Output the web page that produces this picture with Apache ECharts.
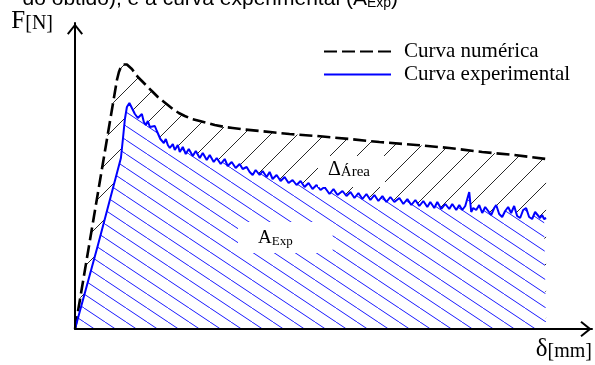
<!DOCTYPE html>
<html>
<head>
<meta charset="utf-8">
<script src="https://cdn.jsdelivr.net/npm/echarts@6/dist/echarts.min.js"></script>
<style>
  html, body { margin: 0; padding: 0; background: #fff; }
  #chart { width: 595px; height: 365px; }
</style>
</head>
<body>
<div id="chart"></div>
<script>
// Numerical (simulated) force-displacement curve
const numDelta = [0, 0.42, 0.44, 0.46, 0.48, 0.50, 0.52, 0.54, 0.57, 0.60, 0.63, 0.66, 0.70, 0.74,
  0.78, 0.83, 0.88, 0.93, 0.98, 1.04, 1.10, 1.17, 1.25, 1.33, 1.40, 1.50, 1.58, 1.70, 1.85,
  2.00, 2.15, 2.42, 2.75, 3.05, 3.42, 3.75, 4.08, 4.40, 4.72];
const numForce = [0, 249, 257, 262, 264.5, 265, 264.5, 263, 260, 256, 252, 249, 245, 241,
  237, 232, 228, 224, 220, 216, 213, 210, 208, 206, 204, 202, 201, 199.5, 198,
  196.5, 195, 193, 190, 187, 184, 181, 177, 174, 170];

// Experimental force-displacement record
const expDelta = [0, 0.23, 0.46, 0.48, 0.50, 0.52, 0.545, 0.56, 0.58, 0.60, 0.63, 0.65, 0.67, 0.69,
  0.71, 0.73, 0.75, 0.77, 0.80, 0.82, 0.84, 0.855, 0.87, 0.89, 0.91, 0.93, 0.95, 0.98,
  1.00, 1.03, 1.05, 1.08, 1.11, 1.14, 1.18, 1.21, 1.25, 1.28, 1.32, 1.35, 1.39, 1.42,
  1.46, 1.50, 1.53, 1.57, 1.61, 1.65, 1.68, 1.72, 1.75, 1.78, 1.81, 1.85, 1.88, 1.92,
  1.95, 1.98, 2.02, 2.06, 2.10, 2.14, 2.18, 2.22, 2.26, 2.30, 2.34, 2.38, 2.42, 2.46,
  2.50, 2.55, 2.59, 2.63, 2.68, 2.72, 2.76, 2.80, 2.84, 2.88, 2.92, 2.96, 3.00, 3.04,
  3.08, 3.12, 3.16, 3.20, 3.25, 3.29, 3.33, 3.37, 3.41, 3.45, 3.49, 3.53, 3.56, 3.60,
  3.63, 3.67, 3.71, 3.75, 3.78, 3.82, 3.85, 3.88, 3.91, 3.93, 3.95, 3.97, 3.99, 4.02,
  4.05, 4.08, 4.11, 4.14, 4.17, 4.20, 4.22, 4.25, 4.28, 4.31, 4.34, 4.37, 4.40, 4.43,
  4.46, 4.49, 4.52, 4.55, 4.58, 4.61, 4.63, 4.66, 4.68, 4.70, 4.72];
const expForce = [0, 84, 171, 190, 210, 222, 226, 224, 219, 215, 211, 209, 215, 207,
  204, 208, 202, 201, 203, 198, 196, 190, 191, 186, 190, 184, 181, 185,
  179, 184, 177, 182, 175, 180, 173, 178, 171, 176, 169, 174, 167, 171,
  165, 170, 163, 167, 161, 165, 160, 162, 157, 154, 159, 154, 158, 152,
  157, 150, 154, 148, 152, 146, 149, 144, 148, 142, 146, 140, 144, 139,
  142, 135, 140, 134, 138, 133, 137, 131, 136, 130, 135, 129, 134, 128,
  133, 127, 132, 127, 131, 125, 130, 124, 129, 123, 128, 122, 127, 121,
  127, 120, 125, 120, 125, 119, 124, 119, 123, 130, 137, 117, 121, 119,
  124, 116, 122, 118, 114, 121, 124, 115, 112, 118, 122, 116, 123, 113,
  111, 119, 121, 112, 110, 117, 119, 111, 114, 110, 111];

const seriesNames = ['Curva numérica', 'Curva experimental'];
const xAxisTitle = ['δ', '[mm]'];
const yAxisTitle = ['F', '[N]'];
const areaLabel = ['Δ', 'Área'];
const expAreaLabel = ['A', 'Exp'];
const captionTail = ['do obtido), e a curva experimental (A', 'Exp', ')'];

const zip = (xs, ys) => xs.map((x, i) => [x, ys[i]]);
const numData = zip(numDelta, numForce);
const expData = zip(expDelta, expForce);

// Repeating tile of parallel hatch lines; dir > 0 rises to the right, dir < 0 falls
function hatch(w, h, dir, color, lw, bg) {
  const c = document.createElement('canvas');
  c.width = w; c.height = h;
  const g = c.getContext('2d');
  if (bg) { g.fillStyle = bg; g.fillRect(0, 0, w, h); }
  g.strokeStyle = color;
  g.lineWidth = lw;
  g.beginPath();
  for (let k = -1; k <= 1; k++) {
    if (dir > 0) { g.moveTo(k * w, h); g.lineTo(k * w + w, 0); }
    else { g.moveTo(k * w, 0); g.lineTo(k * w + w, h); }
  }
  g.stroke();
  return { image: c, repeat: 'repeat' };
}

const blackHatch = hatch(27, 27, 1, '#111', 0.9);
const blueHatch = hatch(21, 14, -1, '#0000ff', 0.9, '#ffffff');

const serif = '"Liberation Serif", "Times New Roman", serif';
const sans = '"Liberation Sans", Arial, sans-serif';

// Open chevron arrow head, apex at the top
const arrowPath = 'path://M0,10 L8,0 L16,10 L14.44,11.25 L8,3.2 L1.56,11.25 Z';

const chart = echarts.init(document.getElementById('chart'), null, { renderer: 'canvas' });

chart.setOption({
  animation: false,
  backgroundColor: '#fff',
  grid: { left: 75, right: 2, top: 23, bottom: 36 },
  legend: {
    data: seriesNames,
    orient: 'vertical',
    left: 323,
    top: 41,
    padding: 0,
    itemWidth: 67,
    itemHeight: 14,
    itemGap: 2,
    selectedMode: false,
    itemStyle: { opacity: 0 },
    textStyle: { fontFamily: serif, fontSize: 21, lineHeight: 21, color: '#000', padding: [0, 0, 0, 8] }
  },
  xAxis: {
    type: 'value', min: 0, max: 5.18,
    z: 10,
    name: '{d|' + xAxisTitle[0] + '}{u|' + xAxisTitle[1] + '}',
    nameLocation: 'end',
    nameGap: 0,
    nameTextStyle: {
      align: 'right', verticalAlign: 'top', padding: [8, 0, 0, 0],
      rich: {
        d: { fontFamily: serif, fontSize: 25, color: '#000', verticalAlign: 'bottom', lineHeight: 25 },
        u: { fontFamily: serif, fontSize: 20, color: '#000', verticalAlign: 'bottom', lineHeight: 25 }
      }
    },
    axisLine: {
      show: true, onZero: false,
      lineStyle: { color: '#000', width: 2 },
      symbol: ['none', arrowPath], symbolSize: [16, 12], symbolOffset: [0, -6]
    },
    axisTick: { show: false }, axisLabel: { show: false }, splitLine: { show: false }
  },
  yAxis: {
    type: 'value', min: 0, max: 306,
    z: 10,
    name: '{f|' + yAxisTitle[0] + '}{u|' + yAxisTitle[1] + '}',
    nameLocation: 'end',
    nameGap: 2,
    nameTextStyle: {
      align: 'right', verticalAlign: 'middle', padding: [0, 22, 0, 0],
      rich: {
        f: { fontFamily: serif, fontSize: 25, color: '#000', verticalAlign: 'bottom', lineHeight: 25 },
        u: { fontFamily: serif, fontSize: 20, color: '#000', verticalAlign: 'bottom', lineHeight: 25 }
      }
    },
    axisLine: {
      show: true, onZero: false,
      lineStyle: { color: '#000', width: 2 },
      symbol: ['none', arrowPath], symbolSize: [16, 12], symbolOffset: [0, -6]
    },
    axisTick: { show: false }, axisLabel: { show: false }, splitLine: { show: false }
  },
  series: [
    {
      name: 'numFill', type: 'line', data: numData,
      symbol: 'none', silent: true, z: 1,
      lineStyle: { width: 0, opacity: 0 },
      areaStyle: { color: blackHatch, opacity: 1 }
    },
    {
      name: 'expFill', type: 'line', data: expData,
      symbol: 'none', silent: true, z: 2,
      lineStyle: { width: 0, opacity: 0 },
      areaStyle: { color: blueHatch, opacity: 1 }
    },
    {
      name: seriesNames[0], type: 'line', data: numData,
      symbol: 'none', silent: true, z: 3,
      itemStyle: { color: '#000' },
      lineStyle: { color: '#000', width: 2.6, type: [13, 5] }
    },
    {
      name: seriesNames[1], type: 'line', data: expData,
      symbol: 'none', silent: true, z: 4,
      itemStyle: { color: '#0000ff' },
      lineStyle: { color: '#0000ff', width: 2 }
    }
  ],
  graphic: [
    {
      type: 'text', x: 398, y: 10, z: 20, silent: true,
      style: {
        text: '{a|' + captionTail[0] + '}{s|' + captionTail[1] + '}{a|' + captionTail[2] + '}',
        textAlign: 'right', textVerticalAlign: 'bottom',
        rich: {
          a: { fontFamily: sans, fontSize: 21, fill: '#000', verticalAlign: 'bottom', lineHeight: 24 },
          s: { fontFamily: sans, fontSize: 14, fill: '#000', verticalAlign: 'bottom', lineHeight: 20 }
        }
      }
    },
    {
      type: 'text', x: 318, y: 156, z: 20, silent: true,
      style: {
        text: '{d|' + areaLabel[0] + '}{s|' + areaLabel[1] + '}',
        backgroundColor: '#fff', padding: [4, 15, 7, 10],
        rich: {
          d: { fontFamily: serif, fontSize: 20, fill: '#000', verticalAlign: 'bottom', lineHeight: 20 },
          s: { fontFamily: serif, fontSize: 15, fill: '#000', verticalAlign: 'bottom', lineHeight: 18 }
        }
      }
    },
    {
      type: 'text', x: 238, y: 222, z: 20, silent: true,
      style: {
        text: '{d|' + expAreaLabel[0] + '}{s|' + expAreaLabel[1] + '}',
        backgroundColor: '#fff', padding: [7, 40, 5, 20],
        rich: {
          d: { fontFamily: serif, fontSize: 19, fill: '#000', verticalAlign: 'bottom', lineHeight: 19 },
          s: { fontFamily: serif, fontSize: 13, fill: '#000', verticalAlign: 'bottom', lineHeight: 17 }
        }
      }
    }
  ]
});
</script>
</body>
</html>
